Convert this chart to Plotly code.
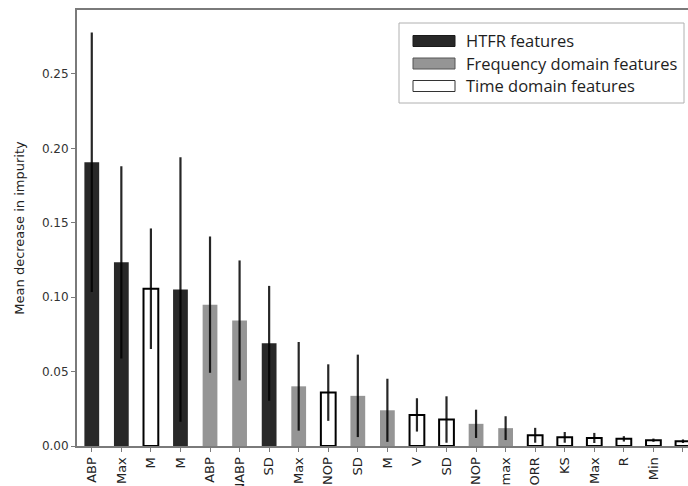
import plotly.graph_objects as go

# Feature importances (mean decrease in impurity) with their standard deviations
features = ["ABP", "Max", "M", "M", "ABP", "NABP", "SD", "Max", "NOP", "SD", "M",
            "V", "SD", "NOP", "Fmax", "CORR", "KS", "Max", "R", "Min", "SK"]
importance = [0.1907, 0.1234, 0.1057, 0.1052, 0.0950, 0.0844, 0.0690, 0.0401, 0.0359,
              0.0337, 0.0240, 0.0209, 0.0178, 0.0149, 0.0120, 0.0072, 0.0058, 0.0054,
              0.0048, 0.0039, 0.0032]
std_dev = [0.0872, 0.0646, 0.0405, 0.0889, 0.0458, 0.0403, 0.0386, 0.0298, 0.0190,
           0.0277, 0.0212, 0.0112, 0.0156, 0.0095, 0.0080, 0.0050, 0.0036, 0.0034,
           0.0018, 0.0011, 0.0012]
group = ["HTFR", "HTFR", "Time", "HTFR", "Freq", "Freq", "HTFR", "Freq", "Time",
         "Freq", "Freq", "Time", "Time", "Freq", "Freq", "Time", "Time", "Time",
         "Time", "Time", "Time"]

group_names = {"HTFR": "HTFR features",
               "Freq": "Frequency domain features",
               "Time": "Time domain features"}
fill = {"HTFR": "#282828", "Freq": "#959595", "Time": "#ffffff"}
edge = {"HTFR": "#282828", "Freq": "#959595", "Time": "#000000"}
edge_w = {"HTFR": 0, "Freq": 0, "Time": 2}

W, H = 688, 486
L, R, T, B = 77, 0, 10, 40

fig = go.Figure()
positions = list(range(len(features)))
for g in ["HTFR", "Freq", "Time"]:
    idx = [i for i in positions if group[i] == g]
    fig.add_trace(go.Bar(
        x=idx,
        y=[importance[i] for i in idx],
        width=0.5,
        name=group_names[g],
        marker=dict(color=fill[g], line=dict(color=edge[g], width=edge_w[g])),
        error_y=dict(type="data", array=[std_dev[i] for i in idx],
                     color="rgba(0,0,0,0.85)", thickness=2.2, width=0),
        showlegend=False,
    ))

axis_col = "#7a7a7a"
fig.update_layout(
    width=W, height=H,
    margin=dict(l=L, r=R, t=T, b=B),
    paper_bgcolor="white", plot_bgcolor="white",
    barmode="overlay",
    font=dict(family="DejaVu Sans", size=12, color="#333333"),
    xaxis=dict(range=[-0.5, 20.17], tickmode="array", tickvals=positions,
               ticktext=features, tickangle=-90, showgrid=False, zeroline=False,
               showline=True, linecolor=axis_col, linewidth=2, mirror=True,
               ticks="outside", ticklen=4, tickcolor=axis_col, tickwidth=1,
               automargin=False,
               tickfont=dict(family="DejaVu Sans", size=13, color="#222222")),
    yaxis=dict(range=[0, 0.293], tickvals=[0, 0.05, 0.10, 0.15, 0.20, 0.25],
               tickformat=".2f", showgrid=False, zeroline=False,
               showline=True, linecolor=axis_col, linewidth=2,
               ticks="outside", ticklen=4, tickcolor=axis_col, tickwidth=1,
               automargin=False,
               tickfont=dict(family="DejaVu Sans", size=12, color="#333333"),
               title=dict(text="Mean decrease in impurity", standoff=14,
                          font=dict(family="DejaVu Sans", size=13,
                                    color="#222222"))),
)

# Legend drawn as a framed box with wide rectangular swatches
pw, ph = W - L - R, H - T - B


def px_x(v):
    return (v - L) / pw


def px_y(v):
    return (H - B - v) / ph


fig.add_shape(type="rect", xref="paper", yref="paper",
              x0=px_x(399), x1=px_x(684), y0=px_y(103), y1=px_y(23),
              line=dict(color="#b0b0b0", width=1), fillcolor="white", layer="above")
swatch_edge = {"HTFR": "#1a1a1a", "Freq": "#555555", "Time": "#333333"}
for k, g in enumerate(["HTFR", "Freq", "Time"]):
    cy = 41 + k * 22.5
    fig.add_shape(type="rect", xref="paper", yref="paper",
                  x0=px_x(413), x1=px_x(455), y0=px_y(cy + 5.5), y1=px_y(cy - 5.5),
                  line=dict(color=swatch_edge[g], width=1), fillcolor=fill[g],
                  layer="above")
    fig.add_annotation(xref="paper", yref="paper", x=px_x(464), y=px_y(cy),
                       xanchor="left", yanchor="middle", showarrow=False,
                       text=group_names[g],
                       font=dict(family="Open Sans", size=16.5, color="#1e1e1e"))

fig.write_html("out.html")
